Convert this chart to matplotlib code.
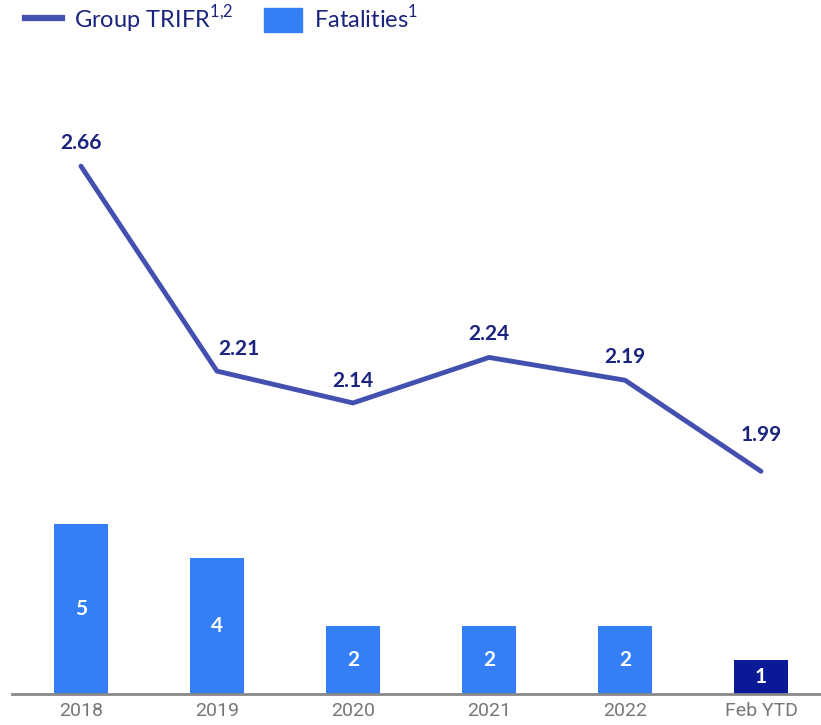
import matplotlib
matplotlib.use("Agg")
import matplotlib.pyplot as plt
from matplotlib.lines import Line2D
from matplotlib.patches import Patch

categories = ["2018", "2019", "2020", "2021", "2022", "Feb YTD"]
trifr = [2.66, 2.21, 2.14, 2.24, 2.19, 1.99]
fatalities = [5, 4, 2, 2, 2, 1]

# label offsets in points (x, y) above each line point
label_offsets = [(0, 17), (16, 16), (0, 16), (0, 17), (0, 17), (0, 26)]

line_col = "#4350B0"
bar_col = "#347FF5"
last_bar_col = "#0A1A96"
text_col = "#1A237E"

plt.rcParams["font.family"] = ["Lato", "DejaVu Sans"]

fig = plt.figure(figsize=(8.21, 7.25), dpi=100)
ax = fig.add_axes([12 / 821, 31 / 725, 809 / 821, 654 / 725])
ax2 = ax.twinx()

x = list(range(len(categories)))
colors = [bar_col] * (len(categories) - 1) + [last_bar_col]
ax.bar(x, fatalities, width=0.4, color=colors, zorder=2)
for xi, v in zip(x, fatalities):
    ax.text(xi, v / 2, str(v), ha="center", va="center", color="white",
            fontsize=15, fontweight="bold")

ax.set_ylim(0, 654 / 34)
ax.set_xlim(-0.507, 5.441)

ax2.plot(x, trifr, color=line_col, lw=3.5, solid_capstyle="round", zorder=3)
ax2.set_ylim(1.501, 2.937)
for xi, v, off in zip(x, trifr, label_offsets):
    ax2.annotate(f"{v:.2f}", (xi, v), xytext=off, textcoords="offset points",
                 ha="center", va="center", color=text_col, fontsize=15,
                 fontweight="bold")

for a in (ax, ax2):
    for s in ["top", "right", "left"]:
        a.spines[s].set_visible(False)
    a.set_yticks([])
ax2.spines["bottom"].set_visible(False)
ax.spines["bottom"].set_color("#888888")
ax.spines["bottom"].set_linewidth(2)
ax.set_xticks(x)
ax.set_xticklabels(categories, color="#777777", fontsize=14,
                   family=["Liberation Sans Narrow", "Roboto", "DejaVu Sans"])
ax.tick_params(axis="x", length=0, pad=6)

handles = [Line2D([0], [0], color=line_col, lw=4.5),
           Patch(color=bar_col)]
labels = [r"Group TRIFR$^{\mathregular{1{,}2}}$", r"Fatalities$^{\mathregular{1}}$"]
leg = fig.legend(handles, labels, loc="upper left", bbox_to_anchor=(0.004, 1.025),
                 ncol=2, frameon=False, fontsize=17, handlelength=1.6,
                 handleheight=1.2, columnspacing=1.3, handletextpad=0.5)
for t in leg.get_texts():
    t.set_color(text_col)

fig.savefig("out.png", dpi=100)
